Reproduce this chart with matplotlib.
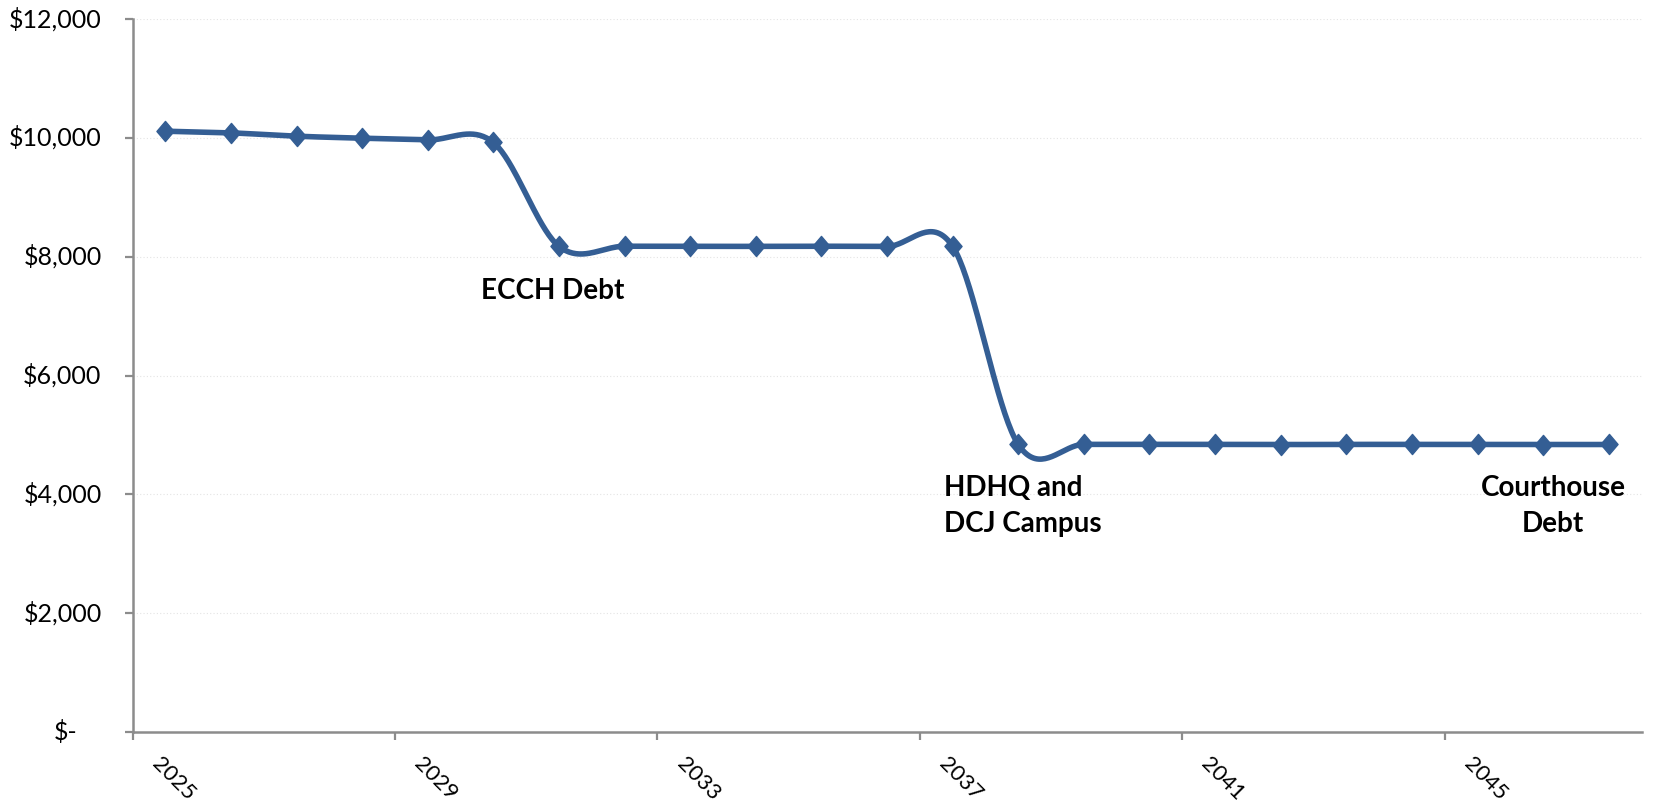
import matplotlib
matplotlib.use('Agg')
import matplotlib.pyplot as plt
import matplotlib.transforms as mtransforms
from matplotlib.path import Path
import numpy as np

YEARS = list(range(2025, 2048))
DEBT = [10112, 10084, 10028, 9994, 9966, 9922,
        8174, 8176, 8172, 8174, 8176, 8172, 8174,
        4839, 4841, 4842, 4840, 4838, 4841, 4840, 4839, 4838, 4839]
Y_TICKS = [0, 2000, 4000, 6000, 8000, 10000, 12000]
Y_LABELS = ['$-', '$2,000', '$4,000', '$6,000', '$8,000', '$10,000', '$12,000']
LABEL_YEARS = [2025, 2029, 2033, 2037, 2041, 2045]

LINE_COLOR = '#345E94'
AXIS_GRAY = '#8C8C8C'
plt.rcParams['font.family'] = ['Lato', 'DejaVu Sans']


def smooth(y, n=40):
    '''Catmull-Rom spline through the points (Excel style smoothed line)'''
    y = np.asarray(y, float)
    m = np.zeros_like(y)
    m[1:-1] = (y[2:] - y[:-2]) / 2
    m[0], m[-1] = y[1] - y[0], y[-1] - y[-2]
    xs, ys = [], []
    t = np.linspace(0, 1, n)
    h00 = 2*t**3 - 3*t**2 + 1
    h10 = t**3 - 2*t**2 + t
    h01 = -2*t**3 + 3*t**2
    h11 = t**3 - t**2
    for i in range(len(y) - 1):
        xs.append(i + t)
        ys.append(h00*y[i] + h10*m[i] + h01*y[i+1] + h11*m[i+1])
    return np.concatenate(xs), np.concatenate(ys)


fig = plt.figure(figsize=(16.63, 8.06), dpi=100)
ax = fig.add_axes([0.0797, 0.0918, 0.9074, 0.8846])

x = np.arange(len(YEARS))
sx, sy = smooth(DEBT)
ax.plot(sx, sy, color=LINE_COLOR, lw=4, solid_capstyle='round', zorder=3)
diamond = Path([(0, 1), (0.85, 0), (0, -1), (-0.85, 0), (0, 1)],
               [Path.MOVETO, Path.LINETO, Path.LINETO, Path.LINETO, Path.CLOSEPOLY])
ax.plot(x, DEBT, ls='none', marker=diamond, ms=14.5, color=LINE_COLOR, zorder=4)

ax.set_xlim(-0.5, len(YEARS) - 0.5)
ax.set_ylim(0, 12000)

# gridlines
for v in Y_TICKS[1:]:
    ax.axhline(v, color='#E4E4E4', lw=0.8, ls=(0, (1, 2)), zorder=1)

for s in ['top', 'right']:
    ax.spines[s].set_visible(False)
for s in ['left', 'bottom']:
    ax.spines[s].set_color(AXIS_GRAY)
    ax.spines[s].set_linewidth(1.8)

# x ticks on category boundaries, labels under category centres
ax.set_xticks([YEARS.index(y) - 0.5 for y in LABEL_YEARS])
ax.set_xticklabels([])
ax.set_yticks(Y_TICKS)
ax.set_yticklabels([])
ax.tick_params(axis='both', direction='out', length=6, width=1.6, color=AXIS_GRAY)

trans_x = mtransforms.blended_transform_factory(ax.transData, ax.transAxes)
for yr in LABEL_YEARS:
    ax.text(YEARS.index(yr) - 0.05, 0, str(yr), rotation=-45, rotation_mode='anchor',
            ha='left', va='top', fontsize=16,
            transform=trans_x + mtransforms.ScaledTranslation(0, -0.22, fig.dpi_scale_trans))

trans_y = mtransforms.blended_transform_factory(ax.transAxes, ax.transData)
for v, lab in zip(Y_TICKS, Y_LABELS):
    off = -31 if v else -55
    ax.text(0, v, lab, ha='right', va='center', fontsize=18,
            transform=trans_y + mtransforms.ScaledTranslation(off/100, 0, fig.dpi_scale_trans))

ax.text(5.9, 7430, 'ECCH Debt', ha='center', va='center', fontsize=20, fontweight='bold')
ax.text(11.87, 4320, 'HDHQ and\nDCJ Campus', ha='left', va='top', fontsize=20,
        fontweight='bold', linespacing=1.45)
ax.text(21.15, 4320, 'Courthouse\nDebt', ha='center', va='top', fontsize=20,
        fontweight='bold', linespacing=1.45)

fig.savefig('out.png', dpi=100)
